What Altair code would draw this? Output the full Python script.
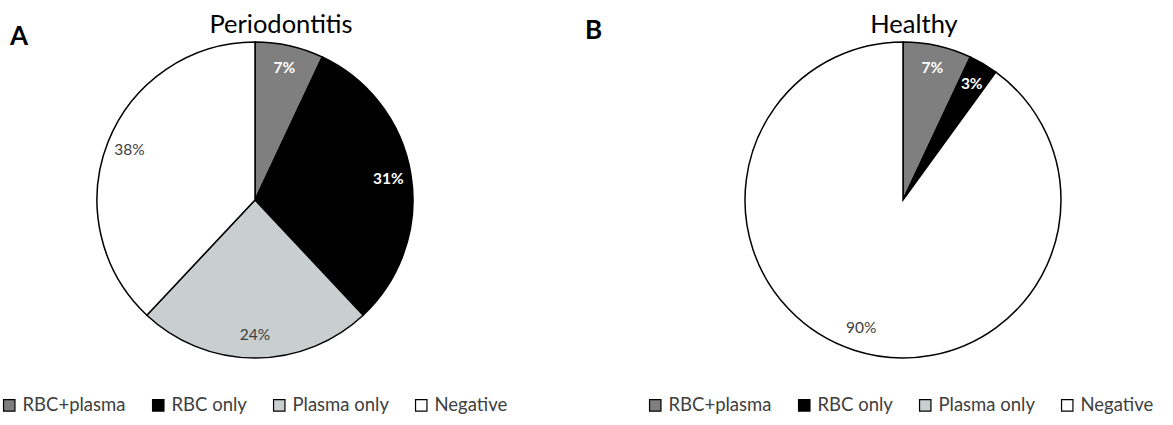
import json
import altair as alt
import pandas as pd

# ---- data ----
categories = ["RBC+plasma", "RBC only", "Plasma only", "Negative"]
periodontitis_pct = [7, 31, 24, 38]
healthy_pct = [7, 3, 0, 90]
panel_titles = ["Periodontitis", "Healthy"]
panel_letters = ["A", "B"]

# ---- styling ----
slice_colors = ["#7f7f7f", "#000000", "#c9cecf", "#ffffff"]
dark_slices = ["RBC+plasma", "RBC only"]
FONT = "Lato"
RADIUS = 158
LABEL_RADIUS = 135


def build_df(values):
    return pd.DataFrame({
        "category": categories,
        "pct": values,
        "order": list(range(len(categories))),
        "label": [f"{v}%" for v in values],
    })


def panel(values, title, letter, width, cx, cy, title_x, letter_x, letter_y, legend_x, legend_y):
    df = build_df(values)
    base = alt.Chart(df).encode(
        theta=alt.Theta("pct:Q", stack=True),
        order=alt.Order("order:Q", sort="ascending"),
    )
    color = alt.Color(
        "category:N",
        scale=alt.Scale(domain=categories, range=slice_colors),
        legend=alt.Legend(
            title=None, orient="none", legendX=legend_x, legendY=legend_y,
            direction="horizontal", symbolType="square", symbolSize=130,
            symbolStrokeColor="black", symbolStrokeWidth=1.2,
            labelFont=FONT, labelFontSize=18.5, labelColor="#404040",
            columnPadding=23, labelOffset=4,
        ),
    )
    arcs = base.mark_arc(outerRadius=RADIUS, stroke="black", strokeWidth=1.5).encode(
        color=color, x=alt.value(cx), y=alt.value(cy)
    )
    dark_test = f"indexof({json.dumps(dark_slices)}, datum.category) >= 0"
    light_test = f"indexof({json.dumps(dark_slices)}, datum.category) < 0 && datum.pct > 0"
    dark_labels = base.mark_text(
        radius=LABEL_RADIUS, font=FONT, fontSize=15.5, fontWeight="bold", color="white"
    ).encode(
        text=alt.condition(dark_test, alt.Text("label:N"), alt.value("")),
        x=alt.value(cx), y=alt.value(cy),
    )
    light_labels = base.mark_text(
        radius=LABEL_RADIUS, font=FONT, fontSize=15.5, color="#404040"
    ).encode(
        text=alt.condition(light_test, alt.Text("label:N"), alt.value("")),
        x=alt.value(cx), y=alt.value(cy),
    )
    title_mark = alt.Chart(pd.DataFrame({"t": [title]})).mark_text(
        font=FONT, fontSize=25.5, color="black", baseline="alphabetic", align="center"
    ).encode(text="t:N", x=alt.value(title_x), y=alt.value(33))
    letter_mark = alt.Chart(pd.DataFrame({"t": [letter]})).mark_text(
        font=FONT, fontSize=26, fontWeight="bold", color="black", baseline="alphabetic", align="left"
    ).encode(text="t:N", x=alt.value(letter_x), y=alt.value(letter_y))
    return alt.layer(arcs, dark_labels, light_labels, title_mark, letter_mark).properties(
        width=width, height=425
    )


left = panel(periodontitis_pct, panel_titles[0], panel_letters[0], 580, 255, 200, 281, 10, 45, 0, 396)
right = panel(healthy_pct, panel_titles[1], panel_letters[1], 593, 323, 200, 334, 5, 39, 66, 396)

chart = (
    alt.hconcat(left, right, spacing=0)
    .resolve_scale(color="independent", theta="independent")
    .properties(padding=0, background="white")
    .configure_view(stroke=None)
)

chart.save("out.html", embed_options={"renderer": "svg", "actions": False})
